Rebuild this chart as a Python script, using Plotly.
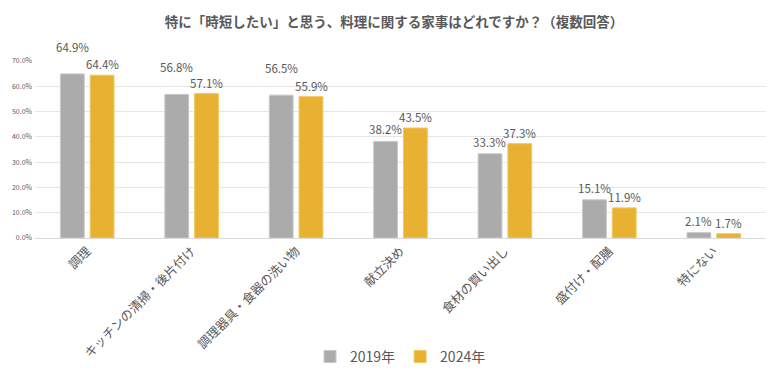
import plotly.graph_objects as go

categories = ["調理", "キッチンの清掃・後片付け", "調理器具・食器の洗い物", "献立決め",
              "食材の買い出し", "盛付け・配膳", "特にない"]
values_2019 = [64.9, 56.8, 56.5, 38.2, 33.3, 15.1, 2.1]
values_2024 = [64.4, 57.1, 55.9, 43.5, 37.3, 11.9, 1.7]
series_names = ["2019年", "2024年"]
title_text = "特に「時短したい」と思う、料理に関する家事はどれですか？（複数回答）"

FONT = "Noto Sans CJK JP, Noto Sans, sans-serif"
TXT = "#595959"
GRAY = "#ABABAB"
GOLD = "#E8B131"

fig = go.Figure()
fig.add_trace(go.Bar(name=series_names[0], x=categories, y=[v / 100 for v in values_2019],
                     marker=dict(color=GRAY, line=dict(color="#C8C8C8", width=1))))
fig.add_trace(go.Bar(name=series_names[1], x=categories, y=[v / 100 for v in values_2024],
                     marker=dict(color=GOLD, line=dict(color="#F0C860", width=1))))

annotations = []
for i, c in enumerate(categories):
    a, b = values_2019[i], values_2024[i]
    ya = 27 if (abs(a - b) < 1.5 and a > 30) else 12
    annotations.append(dict(x=c, y=a / 100, text=f"{a:.1f}%", showarrow=False, xref="x", yref="y",
                            xshift=-15, yshift=ya, font=dict(family=FONT, size=11.5, color=TXT)))
    annotations.append(dict(x=c, y=b / 100, text=f"{b:.1f}%", showarrow=False, xref="x", yref="y",
                            xshift=15, yshift=11, font=dict(family=FONT, size=11.5, color=TXT)))

# page body has an 8px margin, so the figure is sized/offset to compensate
fig.update_layout(
    width=772, height=369,
    margin=dict(l=27, r=14, t=53, b=139, autoexpand=False),
    paper_bgcolor="white", plot_bgcolor="white",
    barmode="group", bargap=0.43, bargroupgap=0.2,
    title=dict(text=f"<b>{title_text}</b>", x=0.5, xanchor="center", y=0.962, yanchor="middle",
               font=dict(family=FONT, size=13.5, color=TXT)),
    font=dict(family=FONT, color=TXT),
    legend=dict(orientation="h", x=0.5, xanchor="center", y=-0.672, yanchor="middle",
                font=dict(family=FONT, size=14, color=TXT), itemwidth=30, traceorder="normal"),
    annotations=annotations,
    xaxis=dict(tickangle=-45, tickfont=dict(family=FONT, size=12.5, color=TXT), automargin=False,
               showline=True, linecolor="#D9D9D9", linewidth=1, ticks=""),
    yaxis=dict(range=[0, 0.7], dtick=0.1, tickformat=".1%", showgrid=True, gridcolor="#E6E6E6",
               automargin=False, ticklabelstandoff=2,
               tickfont=dict(family=FONT, size=7, color=TXT), zeroline=False, ticks=""),
)

fig.write_html("out.html")
